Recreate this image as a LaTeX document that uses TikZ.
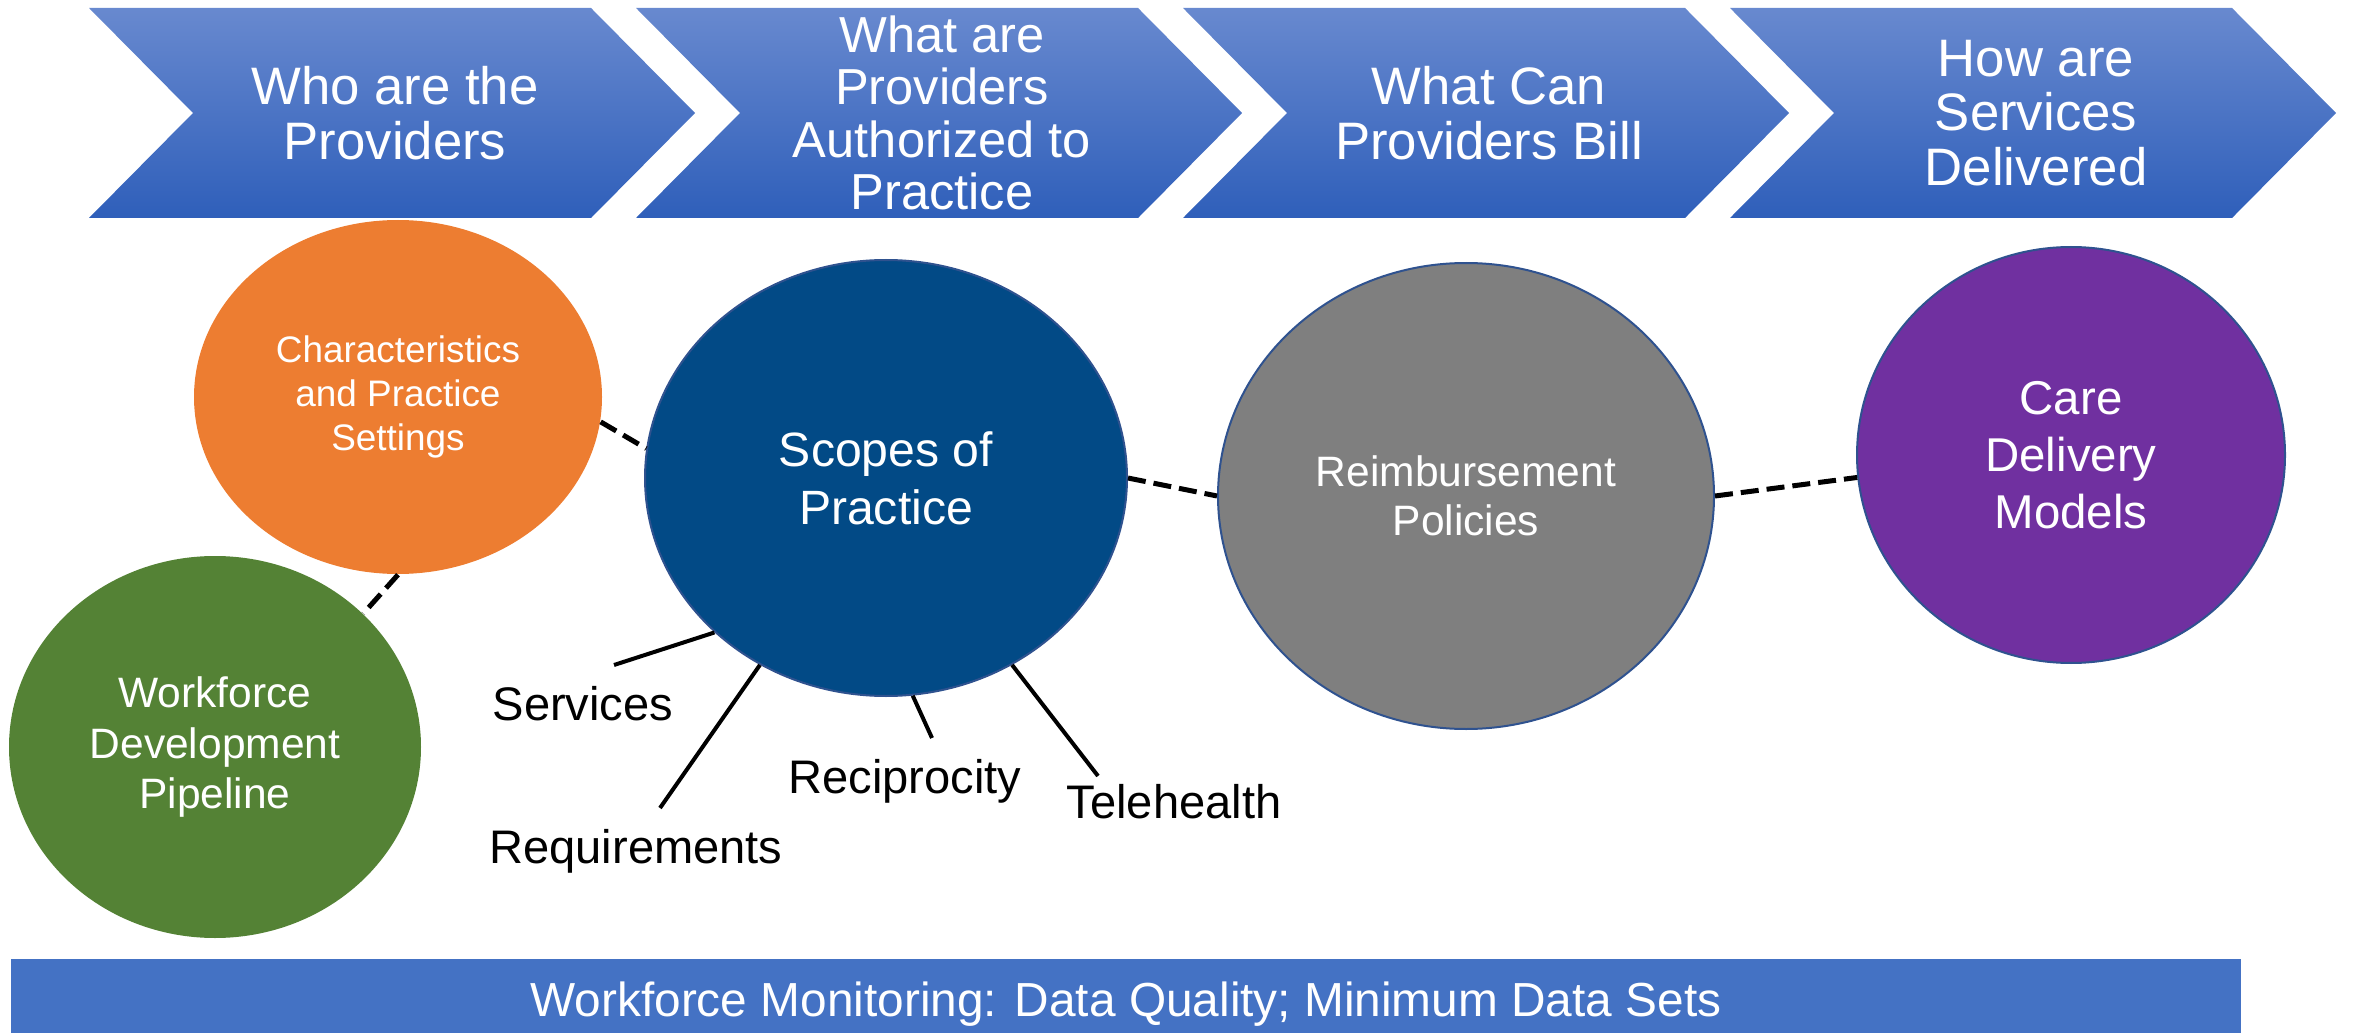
\documentclass[tikz,border=0pt]{standalone}
\usepackage{fontspec}
\setmainfont{Liberation Sans}
\usetikzlibrary{shapes.geometric}
\definecolor{arrowtop}{RGB}{104,137,207}
\definecolor{arrowbot}{RGB}{47,95,186}
\definecolor{barblue}{RGB}{68,114,196}
\definecolor{orange1}{RGB}{237,125,49}
\definecolor{green1}{RGB}{84,130,53}
\definecolor{navy1}{RGB}{2,74,134}
\definecolor{grey1}{RGB}{127,127,127}
\definecolor{purple1}{RGB}{112,48,160}
\definecolor{rim}{RGB}{47,82,143}

\begin{document}
\begin{tikzpicture}[
		x=0.1mm, y=-0.1mm,
		bubble/.style = {ellipse, inner sep=0pt, text=white, align=center},
		ringed/.style = {draw=rim, line width=0.2mm},
		head/.style = {text=white, align=center, inner sep=0pt},
		tag/.style = {anchor=base, inner sep=0pt, font=\fontsize{13.4}{16}\selectfont},
		link/.style = {line width=0.5mm, dash pattern=on 1.8mm off 0.8mm},
		spoke/.style = {line width=0.4mm}
	]
	\useasboundingbox (0,0) rectangle (2354,1033);
	% Draw the four steps.
	\foreach \i/\fs/\bs/\txt in {0/15/15.6/{Who are the\\Providers},
			1/14.4/14.9/{What are\\Providers\\Authorized to\\Practice},
			2/15/15.6/{What Can\\Providers Bill},
			3/15/15.6/{How are\\Services\\Delivered}} {
		\pgfmathsetmacro{\xa}{89+547*\i}
		\shade[top color=arrowtop, bottom color=arrowbot] (\xa,8) -- ({\xa+502},8) -- ({\xa+606},113) -- ({\xa+502},218) -- (\xa,218) -- ({\xa+104},113) -- cycle;
		\node[head, font=\fontsize{\fs}{\bs}\selectfont] (q\i) at ({\xa+306},113) {\txt};
	}
	% Draw the topics.
	\node[bubble, fill=orange1, minimum width=40.8mm, minimum height=35.4mm, font=\fontsize{10.5}{12.5}\selectfont] (chars) at (398,397) {Characteristics\\and Practice\\Settings};
	\node[bubble, fill=green1, minimum width=41.2mm, minimum height=38.2mm, font=\fontsize{12.1}{14.5}\selectfont] (pipeline) at (215,747) {Workforce\\Development\\Pipeline};
	\node[bubble, ringed, fill=navy1, minimum width=48.2mm, minimum height=43.6mm, font=\fontsize{13.7}{16.5}\selectfont] (scopes) at (886,478) {Scopes of\\Practice};
	\node[bubble, ringed, fill=grey1, minimum width=49.6mm, minimum height=46.6mm, font=\fontsize{12.1}{13.9}\selectfont] (reimb) at (1466,496) {Reimbursement\\Policies};
	\node[bubble, ringed, fill=purple1, minimum width=42.8mm, minimum height=41.6mm, font=\fontsize{13.5}{16.2}\selectfont] (care) at (2071,455) {Care\\Delivery\\Models};
	% Draw the dashed links.
	\draw[link] (chars.353) -- (scopes.173);
	\draw[link] (chars.270) -- (pipeline.42);
	\draw[link] (scopes.0) -- (reimb.180);
	\draw[link] (reimb.0) -- (care.186);
	% Draw the parts of the scopes.
	\node[tag] (serv) at (583,720) {Services};
	\node[tag] (req) at (636,863) {Requirements};
	\node[tag] (recip) at (905,793) {Reciprocity};
	\node[tag] (tele) at (1174,818) {Telehealth};
	\coordinate (e1) at (614,665);
	\coordinate (e2) at (660,808);
	\coordinate (e3) at (932,738);
	\coordinate (e4) at (1098,776);
	\draw[spoke] (scopes.222) -- (e1);
	\draw[spoke] (scopes.236) -- (e2);
	\draw[spoke] (scopes.277) -- (e3);
	\draw[spoke] (scopes.304) -- (e4);
	% Draw the monitoring bar.
	\node[fill=barblue, minimum width=223mm, minimum height=7.4mm, inner sep=0pt, text height=4mm, text depth=0pt, text=white, font=\fontsize{13.6}{16}\selectfont] (monitor) at (1126,996) {Workforce Monitoring: Data Quality; Minimum Data Sets};
\end{tikzpicture}
\end{document}
